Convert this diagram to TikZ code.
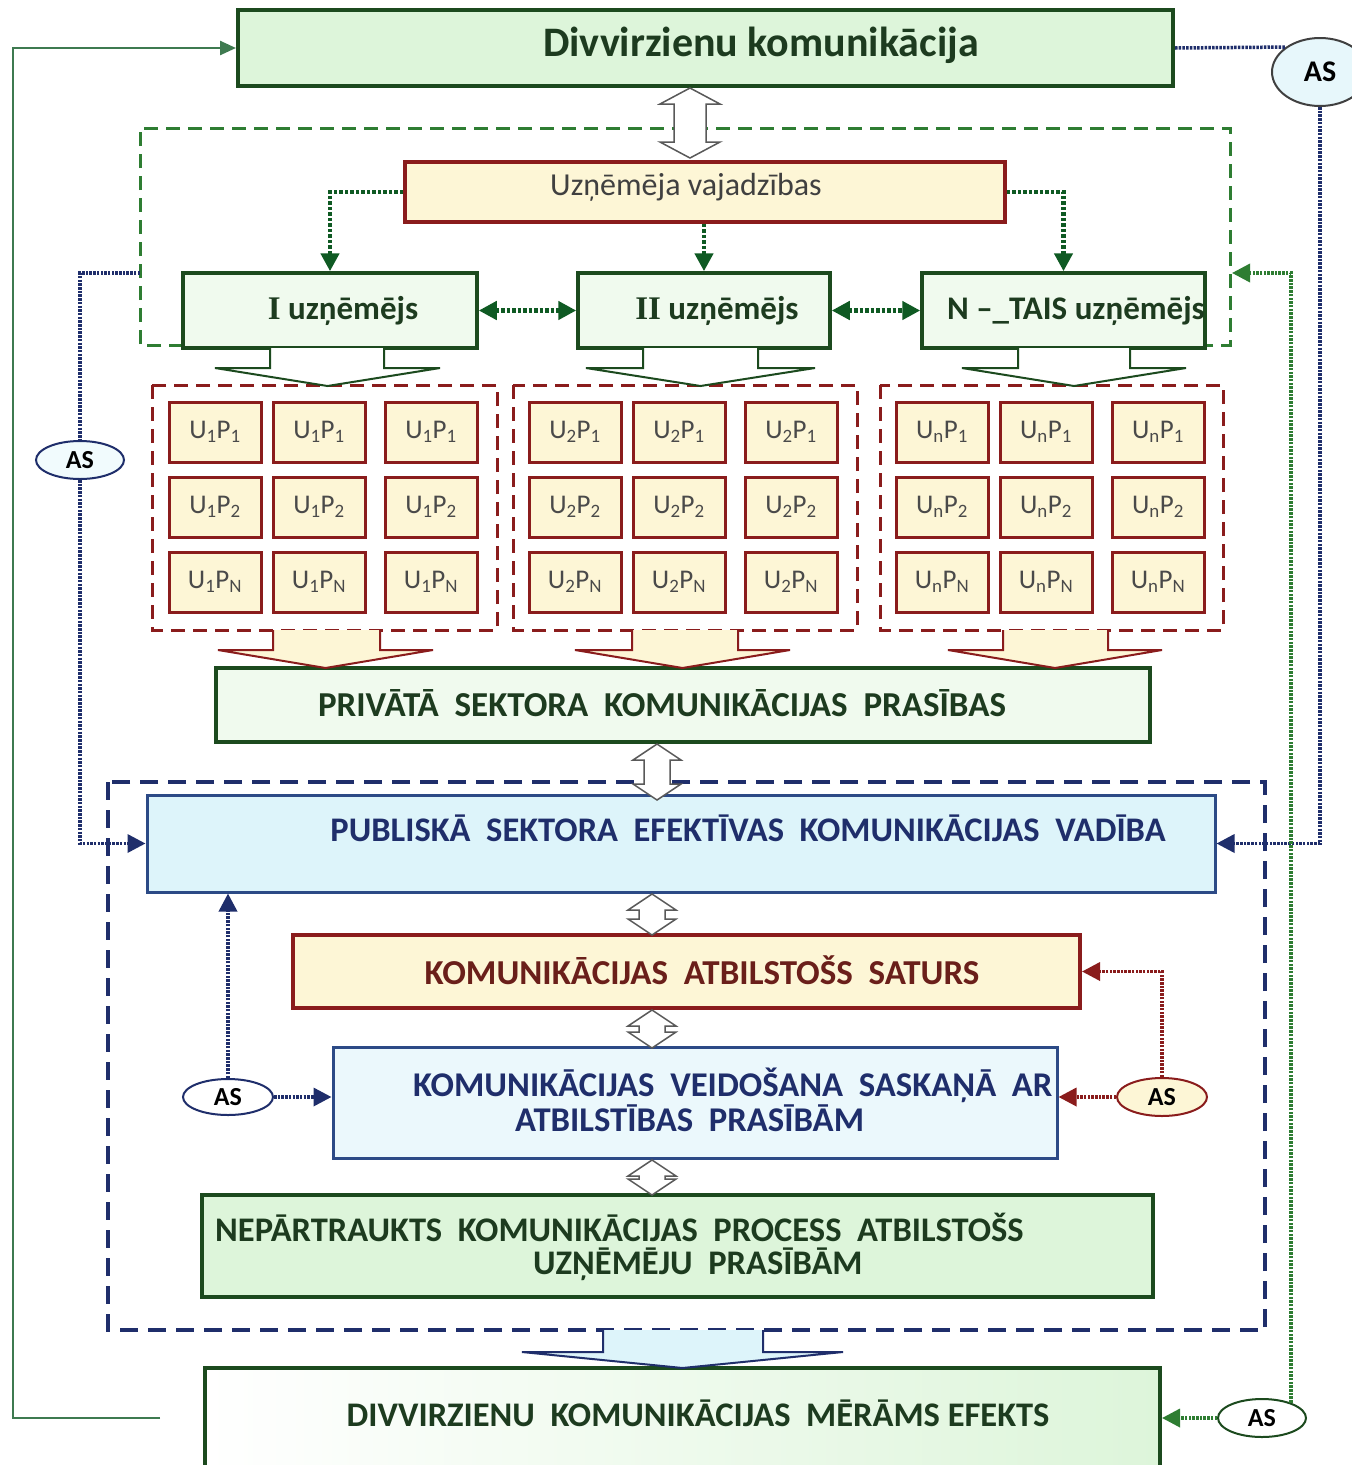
\documentclass[tikz,border=0pt]{standalone}
\usepackage{fontspec}
\setmainfont{Carlito}
\newfontfamily\serifI{Liberation Serif}
\usetikzlibrary{arrows.meta,shapes.geometric,calc}
\definecolor{dgreen}{HTML}{1C4A1E}
\definecolor{mgreen}{HTML}{0F5A23}
\definecolor{fgreen}{HTML}{2E7D32}
\definecolor{lgreen}{HTML}{DDF5DA}
\definecolor{pgreen}{HTML}{F0FAEE}
\definecolor{dred}{HTML}{8A1C1C}
\definecolor{lyellow}{HTML}{FDF6D6}
\definecolor{navy}{HTML}{1F2E6B}
\definecolor{bnavy}{HTML}{2C4A86}
\definecolor{lcyan}{HTML}{DDF4FA}
\definecolor{solidg}{HTML}{3E7A50}
\definecolor{txtred}{HTML}{6A1F1A}
\definecolor{txtgreen}{HTML}{1D3B1F}
\definecolor{cellt}{HTML}{4A4A4A}
\newcommand{\fs}[1]{\fontsize{#1}{#1}\selectfont}
\newcommand{\myblk}[8]{\filldraw[#8] (#1,#5) -- (#1,#6) -- (#3,#6) -- ({(#3+#4)/2},#7) -- (#4,#6) -- (#2,#6) -- (#2,#5);}
\newcommand{\mydbl}[5]{\filldraw[dblst] (#1-#4,#2+16) -- (#1-#5,#2+16) -- (#1,#2) -- (#1+#5,#2+16) -- (#1+#4,#2+16) -- (#1+#4,#3-16) -- (#1+#5,#3-16) -- (#1,#3) -- (#1-#5,#3-16) -- (#1-#4,#3-16) -- cycle;}
\tikzset{
  box/.style={draw, inner sep=0pt},
  gbox/.style={box, draw=dgreen, line width=4pt},
  ybox/.style={box, draw=dred, fill=lyellow, line width=3.5pt},
  cbox/.style={box, draw=bnavy, fill=lcyan, line width=3pt},
  cell/.style={box, draw=dred, fill=lyellow, line width=3pt, minimum width=92pt, minimum height=60pt, text=cellt, font=\fs{27}},
  lab/.style={inner sep=0pt, font=\bfseries\fs{33}},
  tip/.style={-{Triangle[length=18pt,width=18pt]}},
  gdotk/.style={draw=mgreen, line width=4.5pt, dash pattern=on 3.5pt off 2pt},
  bdot/.style={draw=navy, line width=3.5pt, dash pattern=on 2.5pt off 1.2pt},
  rdot/.style={draw=dred, line width=3.5pt, dash pattern=on 2.5pt off 1.2pt},
  gdot/.style={draw=fgreen, line width=3.5pt, dash pattern=on 2.5pt off 1.2pt},
  gline/.style={draw=solidg, line width=2.5pt},
  gdash/.style={draw=fgreen, line width=3pt, dash pattern=on 14pt off 8pt},
  rdash/.style={draw=dred, line width=3pt, dash pattern=on 14pt off 8pt},
  ndash/.style={draw=navy, line width=3.5pt, dash pattern=on 18pt off 10pt},
  dblst/.style={draw=gray!70!black, fill=white, line width=1.5pt},
  asn/.style={ellipse, draw, line width=2pt, inner sep=0pt, font=\bfseries\fs{26}},
}
\begin{document}
\begin{tikzpicture}[x=1pt,y=-1pt]
\useasboundingbox (0,0) rectangle (1352,1465);
\clip (0,0) rectangle (1352,1465);
\fill[white] (0,0) rectangle (1352,1465);

% frames
\draw[gdash] (183,345) -- (140,345) -- (140,128) -- (1230,128) -- (1230,345) -- (1205,345);
\coordinate (fL) at (140,273);
\coordinate (fR) at (1232,273);
\draw[rdash] (152,385) rectangle (497,630);
\draw[rdash] (513,385) rectangle (857,630);
\draw[rdash] (880,385) rectangle (1223,630);
\draw[ndash] (108,782) rectangle (1265,1330);

% main boxes
\node[gbox, fill=lgreen, minimum width=935pt, minimum height=76pt] (top) at (705.5,48) {};
\node[lab, font=\bfseries\fs{42}, text=txtgreen] (topt) at (761,45) {Divvirzienu komunikācija};

\node[ybox, minimum width=600pt, minimum height=60pt] (vaj) at (705,192) {};
\node[inner sep=0pt, font=\fs{32}, text=black!75] (vajt) at (686,187) {Uzņēmēja vajadzības};

\node[gbox, fill=pgreen, line width=3.5pt, minimum width=294pt, minimum height=75pt] (u1) at (330,310.5) {};
\node[gbox, fill=pgreen, line width=3.5pt, minimum width=252pt, minimum height=75pt] (u2) at (704,310.5) {};
\node[gbox, fill=pgreen, line width=3.5pt, minimum width=283pt, minimum height=75pt] (u3) at (1063.5,310.5) {};
\node[lab, text=txtgreen] (u1t) at (343,311) {{\serifI I} uzņēmējs};
\node[lab, text=txtgreen] (u2t) at (717,311) {{\serifI II} uzņēmējs};
\node[lab, text=txtgreen] (u3t) at (1076,311) {N –\_TAIS uzņēmējs};

% cells
\foreach \gx/\u in {0/1, 360/2, 727/n}{
  \foreach \cx [count=\ci] in {215,319,431}{
    \node[cell] (c\u a\ci) at (\cx+\gx,432) {U\textsubscript{\u}P\textsubscript{1}};
    \node[cell] (c\u b\ci) at (\cx+\gx,507) {U\textsubscript{\u}P\textsubscript{2}};
    \node[cell] (c\u c\ci) at (\cx+\gx,582) {U\textsubscript{\u}P\textsubscript{N}};
  }
}

\node[gbox, fill=pgreen, minimum width=934pt, minimum height=74pt] (priv) at (683,705) {};
\node[lab, text=txtgreen, font=\bfseries\fs{35}] (privt) at (662,703) {PRIVĀTĀ~~SEKTORA~~KOMUNIKĀCIJAS~~PRASĪBAS};

\node[cbox, minimum width=1068pt, minimum height=97pt] (publ) at (681,843.5) {};
\node[lab, text=navy, font=\bfseries\fs{34.5}] (publt) at (748,828) {PUBLISKĀ~~SEKTORA~~EFEKTĪVAS~~KOMUNIKĀCIJAS~~VADĪBA};

\node[ybox, line width=4pt, minimum width=787pt, minimum height=73pt] (sat) at (686.5,971.5) {};
\node[lab, text=txtred, font=\bfseries\fs{35}] (satt) at (702,970) {KOMUNIKĀCIJAS~~ATBILSTOŠS~~SATURS};

\node[cbox, fill=lcyan!60, minimum width=724pt, minimum height=111pt] (veid) at (695,1102.5) {};
\node[lab, text=navy, font=\bfseries\fontsize{34.7}{35}\selectfont, align=left, anchor=west] (veidt) at (413,1100) {KOMUNIKĀCIJAS~~VEIDOŠANA~~SASKAŅĀ~~AR\\\hspace*{102pt}ATBILSTĪBAS~~PRASĪBĀM};

\node[gbox, fill=lgreen, minimum width=951pt, minimum height=102pt] (nep) at (677.5,1246) {};
\node[lab, text=txtgreen, font=\bfseries\fontsize{34.5}{33}\selectfont, align=left, anchor=west] (nept) at (215,1246.5) {NEPĀRTRAUKTS~~KOMUNIKĀCIJAS~~PROCESS~~ATBILSTOŠS\\\hspace*{318pt}UZŅĒMĒJU~~PRASĪBĀM};

\node[gbox, left color=white, right color=lgreen, minimum width=955pt, minimum height=107pt] (eff) at (682.5,1421.5) {};
\node[lab, text=txtgreen, font=\bfseries\fs{34.5}] (efft) at (698,1413) {DIVVIRZIENU~~KOMUNIKĀCIJAS~~MĒRĀMS EFEKTS};

% block arrows
\myblk{270}{384}{215}{440}{348}{368}{386}{draw=dgreen, fill=white, line width=2pt}
\myblk{643}{758}{586}{815}{348}{368}{386}{draw=dgreen, fill=white, line width=2pt}
\myblk{1018}{1130}{962}{1186}{348}{368}{386}{draw=dgreen, fill=white, line width=2pt}
\myblk{273}{380}{218}{433}{630}{650}{668}{draw=dred, fill=lyellow, line width=2pt}
\myblk{632}{738}{575}{790}{630}{650}{668}{draw=dred, fill=lyellow, line width=2pt}
\myblk{1003}{1108}{948}{1162}{630}{650}{668}{draw=dred, fill=lyellow, line width=2pt}
\myblk{603}{763}{522}{843}{1330}{1352}{1368}{draw=navy, fill=lcyan, line width=2pt}

% double arrows
\mydbl{690}{88}{158}{16}{30}
\mydbl{657}{744}{800}{13}{24}
\mydbl{652}{894}{935}{13}{24}
\mydbl{652}{1010}{1048}{13}{24}
\mydbl{652}{1160}{1195}{13}{24}

% AS ellipses
\node[asn, fill=lcyan!70, draw=black!75, minimum width=96pt, minimum height=68pt, font=\bfseries\fs{30}] (as1) at (1320,72) {AS};
\node[asn, fill=lcyan!40, draw=navy, minimum width=88pt, minimum height=38pt] (asL) at (80,460) {AS};
\node[asn, fill=white, draw=navy, minimum width=90pt, minimum height=36pt] (asV) at (228,1097) {AS};
\node[asn, fill=lyellow, draw=dred, minimum width=90pt, minimum height=38pt] (asR) at (1162,1097) {AS};
\node[asn, fill=white, draw=dgreen, minimum width=88pt, minimum height=38pt] (asB) at (1262,1418) {AS};

% connectors
\coordinate (gs) at (160,1418);
\coordinate (gc) at (13,1418);
\draw[gline, -{Triangle[length=16pt,width=14pt]}] (gs) -- (gc) |- (top.west);

\draw[gdotk, tip] (vaj.west) -| (u1.north);
\draw[gdotk, tip] (vaj.south -| u2.north) -- (u2.north);
\draw[gdotk, tip] (vaj.east) -| (u3.north);
\draw[gdotk, {Triangle[length=18pt,width=18pt]}-{Triangle[length=18pt,width=18pt]}] (u1.east) -- (u2.west);
\draw[gdotk, {Triangle[length=18pt,width=18pt]}-{Triangle[length=18pt,width=18pt]}] (u2.east) -- (u3.west);

\draw[bdot] (top.east) -- (as1.144);
\draw[bdot, tip] (as1.south) |- (publ.east);
\draw[bdot] (fL) -| (asL.north);
\draw[bdot, tip] (asL.south) |- (publ.west);
\draw[bdot, tip] (asV.east) -- (asV.east -| veid.west);
\draw[bdot, tip] (asV.north) -- (asV.north |- publ.south);
\draw[rdot, tip] (asR.west) -- (asR.west -| veid.east);
\draw[rdot, tip] (asR.north) |- (sat.east);
\draw[gdot, tip] (asB.west) -- (asB.west -| eff.east);
\draw[gdot, tip] (asB.28) |- (fR);
\end{tikzpicture}
\end{document}
